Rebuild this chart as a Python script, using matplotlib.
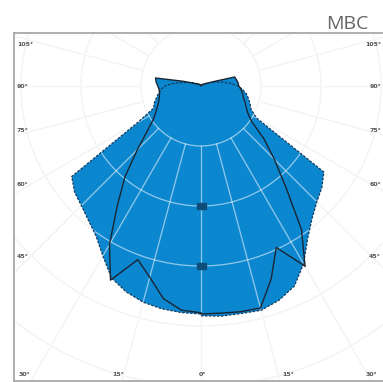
import numpy as np
import matplotlib
matplotlib.use("Agg")
import matplotlib.pyplot as plt

# polar intensity data (cd/klm), gamma angle from nadir
gamma = np.arange(0, 181, 5)
c0 = [383, 385, 385, 387, 380, 368, 342, 310, 288, 273, 263, 250, 107, 92, 87, 82, 77, 70, 62,
      50, 37, 25, 17, 12, 8, 7, 5, 5, 3, 3, 2, 2, 0, 0, 0, 0, 0]
c180 = [380, 379, 377, 373, 365, 353, 327, 305, 292, 282, 275, 263, 122, 87, 83, 77, 72, 67, 60,
        47, 33, 23, 17, 12, 8, 7, 5, 5, 3, 3, 2, 2, 0, 0, 0, 0, 0]
c90 = [380, 380, 382, 383, 342, 297, 347, 292, 220, 173, 137, 103, 90, 83, 78, 73, 70, 67, 63,
       62, 60, 58, 20, 10, 7, 5, 3, 3, 2, 0, 0, 0, 0, 0, 0, 0, 0]
c270 = [378, 375, 360, 330, 308, 357, 305, 243, 197, 150, 117, 97, 87, 80, 75, 72, 70, 70, 72,
        75, 77, 30, 13, 8, 7, 5, 5, 3, 3, 2, 2, 0, 0, 0, 0, 0, 0]

rings = [100, 200, 300, 400, 500]
spokes = np.arange(0, 360, 15)

side_angles = ["105°", "90°", "75°", "60°", "45°"]
side_y = [45, 86, 131, 185, 256]
bottom_angles = ["30°", "15°", "0°", "15°", "30°"]
bottom_x = [24, 118, 202, 288, 371]

W, H = 383, 382
scale = 0.6  # pixels per cd/klm
blue = "#0b87d0"


def outline(right, left):
    t = np.radians(gamma)
    r1 = np.array(right, float)
    r2 = np.array(left, float)[::-1]
    t2 = t[::-1]
    x = np.concatenate([r1 * np.sin(t), -r2 * np.sin(t2)])
    y = np.concatenate([-r1 * np.cos(t), -r2 * np.cos(t2)])
    return x, y


def draw_grid(color, alpha, z):
    th = np.linspace(0, 2 * np.pi, 400)
    for r in rings:
        ax.plot(r * np.cos(th), r * np.sin(th), color=color, lw=0.9, alpha=alpha, zorder=z)
    for a in spokes:
        t = np.radians(a)
        ax.plot([rings[0] * np.sin(t), 900 * np.sin(t)], [-rings[0] * np.cos(t), -900 * np.cos(t)],
                color=color, lw=0.9, alpha=alpha, zorder=z)


fig = plt.figure(figsize=(W / 100, H / 100), dpi=100)
ax = fig.add_axes([14 / W, 1 - 381 / H, 374 / W, 348 / H])
ax.set_xlim(-187 / scale, 187 / scale)
ax.set_ylim(-295 / scale, 53 / scale)
ax.set_xticks([])
ax.set_yticks([])
for s in ["left", "top", "bottom"]:
    ax.spines[s].set_color("#a8a8a8")
    ax.spines[s].set_linewidth(1.3)
ax.spines["right"].set_visible(False)

# faint grid under the fill, whitish grid over it
draw_grid("#e9e9e9", 1.0, 0)

x0, y0 = outline(c0, c180)
x90, y90 = outline(c90, c270)
ax.fill(x0, y0, color=blue, lw=0, zorder=1)
ax.fill(x90, y90, color=blue, lw=0, zorder=1)

draw_grid("white", 0.55, 2)

ax.plot(x0, y0, color="#15395a", lw=0.9, ls=(0, (2, 1.2)), zorder=3)
ax.plot(x90, y90, color="#1a2633", lw=1.0, zorder=3)

for r in rings[1:3]:
    ax.add_patch(plt.Rectangle((-7.5, -r - 5), 15, 10, color="#0e4c7a", zorder=4))

for lab, py in zip(side_angles, side_y):
    fig.text(17 / W, 1 - py / H, lab, fontsize=4.5, color="#555555", ha="left", va="center",
             fontweight="bold")
    fig.text(381 / W, 1 - py / H, lab, fontsize=4.5, color="#555555", ha="right", va="center",
             fontweight="bold")
for lab, px in zip(bottom_angles, bottom_x):
    fig.text(px / W, 1 - 374 / H, lab, fontsize=4.5, color="#555555", ha="center", va="center",
             fontweight="bold")

fig.text(368 / W, 1 - 29 / H, "MBC", fontsize=14, color="#666666", ha="right", va="baseline",
         family=["Open Sans", "DejaVu Sans"])

fig.savefig("out.png", dpi=100)
